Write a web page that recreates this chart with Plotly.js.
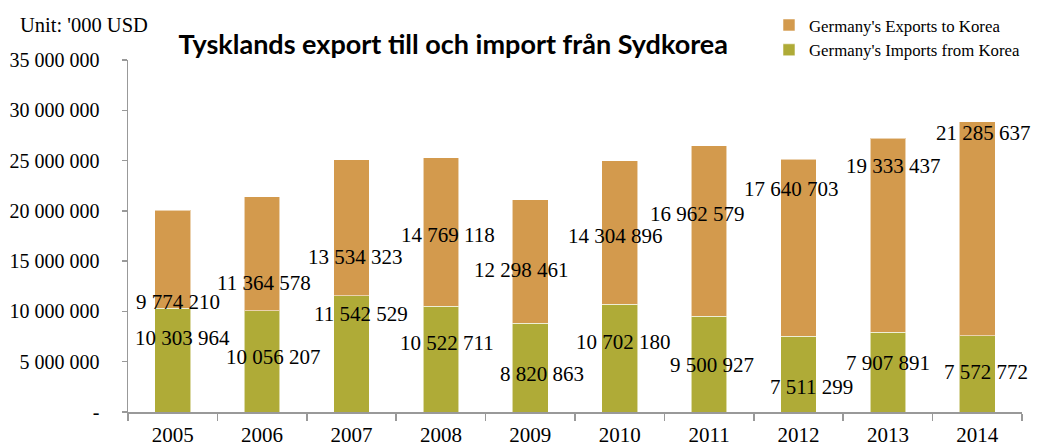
<!DOCTYPE html>
<html>
<head>
<meta charset="utf-8">
<script src="https://cdn.plot.ly/plotly-3.0.1.min.js"></script>
<style>html,body{margin:0;padding:0;background:#fff;}#chart{width:1042px;height:446px;}</style>
</head>
<body>
<div id="chart"></div>
<script>
// ---- data ----
const years = ['2005','2006','2007','2008','2009','2010','2011','2012','2013','2014'];
const exportsToKorea = [9774210, 11364578, 13534323, 14769118, 12298461, 14304896, 16962579, 17640703, 19333437, 21285637];
const importsFromKorea = [10303964, 10056207, 11542529, 10522711, 8820863, 10702180, 9500927, 7511299, 7907891, 7572772];
const yTickVals = [0, 5000000, 10000000, 15000000, 20000000, 25000000, 30000000, 35000000];
const yTickText = ['-', '5 000 000', '10 000 000', '15 000 000', '20 000 000', '25 000 000', '30 000 000', '35 000 000'];

// ---- label placement (layout only) ----
const expLabelY = [10.94e6, 12.83e6, 15.41e6, 17.6e6, 14.12e6, 17.5e6, 19.69e6, 22.17e6, 24.46e6, 27.74e6];
const impLabelY = [7.36e6, 5.47e6, 9.74e6, 6.86e6, 3.78e6, 6.96e6, 4.67e6, 2.49e6, 4.87e6, 3.98e6];
const expShift = [5, 2, 4, 7, -9, -4, -12, -7, 6, 6];
const impShift = [10, 11, 9, 6, 12, 4, 3, 13, 0, 9];

const fmt = v => String(v).replace(/\B(?=(\d{3})+(?!\d))/g, ' ');
const serif = 'Liberation Serif';

try {
const traces = [
  {type:'bar', name:"Germany's Imports from Korea", x: years, y: importsFromKorea,
   marker:{color:'rgb(175,171,55)', line:{color:'rgba(255,255,255,0.55)', width:1}}, width:0.4, hoverinfo:'skip'},
  {type:'bar', name:"Germany's Exports to Korea", x: years, y: exportsToKorea,
   marker:{color:'rgb(211,154,77)', line:{color:'rgba(255,255,255,0.55)', width:1}}, width:0.4, hoverinfo:'skip'}
];

const annotations = [];
for (let i = 0; i < years.length; i++) {
  annotations.push({x: i, y: expLabelY[i], xref:'x', yref:'y', text: fmt(exportsToKorea[i]), showarrow:false,
    xshift: expShift[i], font:{family: serif, size:21, color:'#000'}, xanchor:'center', yanchor:'middle'});
  annotations.push({x: i, y: impLabelY[i], xref:'x', yref:'y', text: fmt(importsFromKorea[i]), showarrow:false,
    xshift: impShift[i], font:{family: serif, size:21, color:'#000'}, xanchor:'center', yanchor:'middle'});
}
annotations.push({x: -0.123, y: 1.099, xref:'paper', yref:'paper', text:"Unit: '000 USD", showarrow:false,
  xanchor:'left', yanchor:'middle', font:{family: serif, size:20.5, color:'#000'}});

const layout = {
  width:1042, height:446,
  margin:{l:128, r:20, t:60, b:34, autoexpand:false},
  paper_bgcolor:'#fff', plot_bgcolor:'#fff',
  barmode:'stack',
  showlegend:true,
  title:{text:'<b>Tysklands export till och import från Sydkorea</b>', x:0.435, xref:'container', xanchor:'center',
    y:0.901, yref:'container', yanchor:'middle', font:{family:'Lato', size:27, color:'#000'}},
  legend:{x:0.717, xanchor:'left', y:1.149, yanchor:'top', traceorder:'reversed', bgcolor:'rgba(0,0,0,0)',
    font:{family: serif, size:16.8, color:'#000'}, tracegroupgap:0},
  xaxis:{type:'category', range:[-0.5, 9.5], showgrid:false, zeroline:false, showline:true, linecolor:'#999', linewidth:1.5,
    ticks:'outside', tickson:'boundaries', ticklen:7, tickcolor:'#999', tickwidth:1.5, ticklabelstandoff:3,
    tickfont:{family: serif, size:21, color:'#000'}},
  yaxis:{range:[0, 35000000], tickvals: yTickVals, ticktext: yTickText, showgrid:false, zeroline:false,
    showline:true, linecolor:'#999', linewidth:1.5, ticks:'outside', ticklen:5, tickcolor:'#999', tickwidth:1.5,
    ticklabelstandoff:18, tickfont:{family: serif, size:20, color:'#000'}},
  annotations: annotations
};

Plotly.newPlot('chart', traces, layout, {displayModeBar:false, staticPlot:true}).catch(e => {
  document.body.insertAdjacentHTML('beforeend', '<pre>' + e + '</pre>');
});
} catch (e) {
  document.body.insertAdjacentHTML('beforeend', '<pre>' + e + '</pre>');
}
</script>
</body>
</html>
